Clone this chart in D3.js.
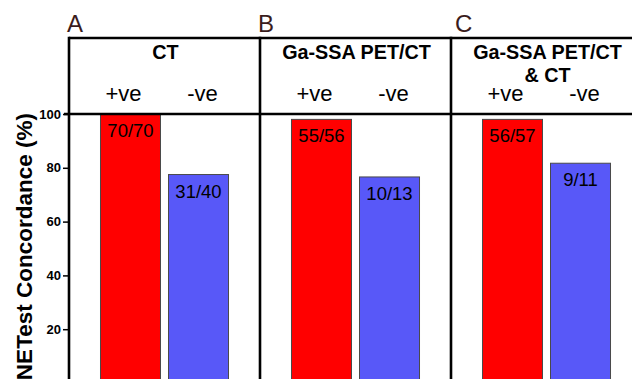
<!DOCTYPE html>
<html>
<head>
<meta charset="utf-8">
<script src="https://cdn.jsdelivr.net/npm/d3@7"></script>
<style>
  html, body { margin: 0; padding: 0; background: #fff; }
  svg { display: block; font-family: "Liberation Sans", Arial, sans-serif; }
</style>
</head>
<body>
<svg id="chart" width="632" height="379"></svg>
<script>
// ---- data ----
const panels = ["A", "B", "C"];
const panelTitles = [["CT"], ["Ga-SSA PET/CT"], ["Ga-SSA PET/CT", "& CT"]];
const groups = ["+ve", "-ve"];
const positiveValues = [100, 98, 98];
const negativeValues = [77.5, 76.6, 81.7];
const positiveLabels = ["70/70", "55/56", "56/57"];
const negativeLabels = ["31/40", "10/13", "9/11"];
const yTicks = [0, 20, 40, 60, 80, 100];
const yTitle = "NETest Concordance (%)";

// ---- layout ----
const svg = d3.select("#chart");
const left = 69, panelW = 191, frameTop = 38, plotTop = 114, plotBottom = 383;

const xPanel = d3.scaleBand().domain(panels).range([left, left + panelW * panels.length]);
const xGroup = d3.scaleBand().domain(groups).range([0, panelW])
  .paddingInner(8 / 68).paddingOuter(0.463);
const y = d3.scaleLinear().domain([0, 100]).range([plotBottom, plotTop]);
const colors = { "+ve": "#ff0000", "-ve": "#5858f8" };

const rows = panels.map((p, i) => ({
  panel: p, title: panelTitles[i],
  bars: [
    { g: "+ve", v: positiveValues[i], label: positiveLabels[i] },
    { g: "-ve", v: negativeValues[i], label: negativeLabels[i] }
  ]
}));

// bars
const pg = svg.selectAll("g.panel").data(rows).enter().append("g")
  .attr("class", "panel")
  .attr("transform", d => `translate(${xPanel(d.panel)},0)`);

pg.selectAll("rect").data(d => d.bars).enter().append("rect")
  .attr("x", d => xGroup(d.g))
  .attr("width", xGroup.bandwidth())
  .attr("y", d => y(d.v))
  .attr("height", d => y(0) - y(d.v))
  .attr("fill", d => colors[d.g])
  .attr("stroke", "#4a4a4a")
  .attr("stroke-width", 1);

pg.selectAll("text.val").data(d => d.bars).enter().append("text")
  .attr("class", "val")
  .attr("x", d => xGroup(d.g) + xGroup.bandwidth() / 2)
  .attr("y", d => y(d.v) + 23)
  .attr("text-anchor", "middle")
  .attr("font-size", 18.5)
  .attr("fill", "#000")
  .text(d => d.label);

// group labels
const groupOffset = { "+ve": -7, "-ve": 4 };
pg.selectAll("text.grp").data(groups).enter().append("text")
  .attr("class", "grp")
  .attr("x", g => xGroup(g) + xGroup.bandwidth() / 2 + groupOffset[g])
  .attr("y", 101)
  .attr("text-anchor", "middle")
  .attr("font-size", 22)
  .attr("fill", "#000")
  .text(g => g);

// panel titles
pg.each(function(d) {
  const t = d3.select(this).append("text")
    .attr("text-anchor", "middle")
    .attr("font-size", 19.8)
    .attr("font-weight", "bold")
    .attr("fill", "#000");
  d.title.forEach((line, k) => {
    t.append("tspan")
      .attr("x", panelW / 2 + 1)
      .attr("y", 59 + k * 22.5)
      .text(line);
  });
});

// panel letters
const letterX = { A: -2, B: -2, C: 4 };
pg.append("text")
  .attr("x", d => letterX[d.panel])
  .attr("y", 32)
  .attr("font-size", 24)
  .attr("fill", "#3a1c1c")
  .text(d => d.panel);

// frame
const frame = svg.append("g").attr("stroke", "#000").attr("stroke-width", 2.6).attr("fill", "none");
frame.append("line").attr("x1", left).attr("x2", 640).attr("y1", frameTop).attr("y2", frameTop);
frame.append("line").attr("x1", left - 5).attr("x2", 640).attr("y1", plotTop).attr("y2", plotTop);
panels.forEach(p => {
  frame.append("line").attr("x1", xPanel(p)).attr("x2", xPanel(p))
    .attr("y1", frameTop - 1.3).attr("y2", 390);
});

// y axis
const yAxis = d3.axisLeft(y).tickValues(yTicks).tickSize(6).tickPadding(2);
const ax = svg.append("g").attr("transform", `translate(${left},0)`).call(yAxis);
ax.select(".domain").remove();
ax.selectAll(".tick line").attr("stroke", "#000").attr("stroke-width", 1.5);
ax.selectAll(".tick text")
  .attr("font-size", 13)
  .attr("font-weight", "bold")
  .attr("font-family", "'Liberation Sans', Arial, sans-serif")
  .attr("fill", "#000");

// y title
svg.append("text")
  .attr("transform", "translate(31.5,113) rotate(-90)")
  .attr("text-anchor", "end")
  .attr("font-size", 22.5)
  .attr("font-weight", "bold")
  .attr("fill", "#000")
  .text(yTitle);
</script>
</body>
</html>
